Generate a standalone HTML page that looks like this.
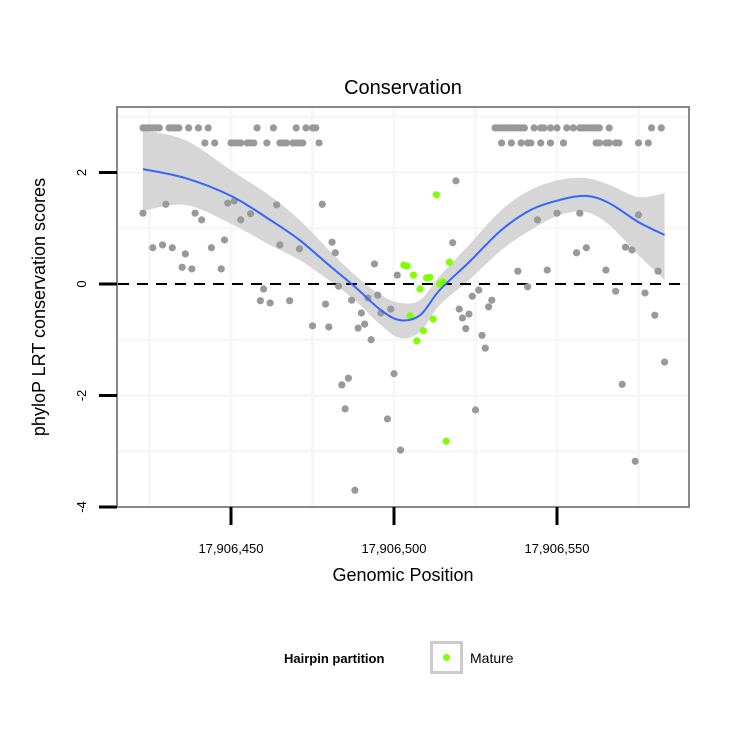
<!DOCTYPE html>
<html><head><meta charset="utf-8"><style>
body{margin:0;background:#fff;}
svg{display:block;font-family:"Liberation Sans",sans-serif;}
</style></head><body>
<svg id="chart" width="750" height="750" viewBox="0 0 750 750" xmlns="http://www.w3.org/2000/svg">
<rect width="750" height="750" fill="#fff"/>
<text x="403" y="94" font-size="20" text-anchor="middle">Conservation</text>
<g id="grid"></g>
<g id="band"></g>
<line x1="118" x2="688" y1="284" y2="284" stroke="#000" stroke-width="2" stroke-dasharray="11,8"/>
<g id="pts"></g>
<g id="fit"></g>
<rect x="117" y="107" width="572" height="400" fill="none" stroke="#888" stroke-width="2"/>
<g id="axes"></g>
<text x="403" y="581" font-size="18" text-anchor="middle">Genomic Position</text>
<text transform="translate(45,307) rotate(-90)" font-size="18" text-anchor="middle">phyloP LRT conservation scores</text>
<g>
<text x="284" y="663" font-size="13" font-weight="bold">Hairpin partition</text>
<rect x="431.5" y="642.5" width="30" height="30" fill="#fff" stroke="#ccc" stroke-width="3"/>
<circle cx="446.5" cy="657.5" r="3.5" fill="#7fff00"/>
<text x="470" y="663" font-size="14">Mature</text>
</g>
</svg>
<script>
const BASE = 17906450;
const xTicks = [17906450, 17906500, 17906550];
const xTickLabels = ["17,906,450", "17,906,500", "17,906,550"];
const yTicks = [2, 0, -2, -4];
const yTickLabels = ["2", "0", "-2", "-4"];
const xGrid = [17906425, 17906450, 17906475, 17906500, 17906525, 17906550, 17906575];
const yGrid = [3, 2, 1, 0, -1, -2, -3];
const grayTopPos = [-27,-26,-25,-24,-23,-22,-19,-18,-17,-16,-13,-10,-7,8,13,20,23,25,26,81,82,83,84,85,86,87,88,89,90,93,95,96,98,100,103,105,107,108,109,110,111,112,113,116,129,132];
const grayTopScore = 2.8;
const graySecPos = [-8,-5,0,1,2,3,5,6,7,11,15,16,17,19,20,21,22,27,83,86,89,91,92,95,98,102,112,113,115,116,118,119,125,128];
const graySecScore = 2.53;
const grayPos = [-27,-20,-24,-21,-18,-14,-15,-12,-11,-9,-6,-2,-3,-1,1,3,6,14,15,21,10,9,12,18,25,28,31,32,29,30,33,37,35,34,36,38,40,39,41,42,43,44,45,46,49,48,50,51,52,69,68,70,71,73,72,74,76,75,77,78,79,80,88,91,94,97,100,106,109,107,115,118,120,121,123,124,125,127,130,131,133];
const grayScore = [1.27,1.43,0.65,0.70,0.65,0.54,0.30,0.27,1.27,1.15,0.65,0.79,0.27,1.45,1.49,1.15,1.26,1.42,0.70,0.63,-0.09,-0.30,-0.34,-0.30,-0.75,1.43,0.75,0.56,-0.36,-0.77,-0.04,-0.29,-2.24,-1.81,-1.69,-3.70,-0.52,-0.79,-0.72,-0.25,-1.00,0.36,-0.20,-0.52,-0.45,-2.42,-1.61,0.16,-2.98,1.85,0.74,-0.45,-0.61,-0.54,-0.80,-0.22,-0.11,-2.26,-0.92,-1.15,-0.41,-0.29,0.23,-0.05,1.15,0.25,1.27,0.56,0.65,1.27,0.25,-0.13,-1.80,0.66,0.61,-3.18,1.24,-0.16,-0.56,0.23,-1.40];
const maturePos = [53,54,56,58,60,61,55,62,59,57,64,65,67,63,66];
const matureScore = [0.34,0.32,0.16,-0.09,0.11,0.12,-0.57,-0.63,-0.84,-1.02,0.00,0.04,0.39,1.60,-2.82];
const smoothPos = [-27,-14,0,12,21,30,38,46,52,58,64,73,83,92,101,109,116,125,133];
const smoothFit = [2.06,1.90,1.58,1.15,0.79,0.34,-0.05,-0.47,-0.65,-0.56,-0.11,0.39,0.97,1.33,1.51,1.58,1.45,1.11,0.88];
const smoothUpper = [2.76,2.58,2.04,1.58,1.15,0.61,0.16,-0.20,-0.34,-0.29,0.14,0.70,1.33,1.69,1.87,1.90,1.78,1.56,1.63];
const smoothLower = [1.31,1.42,1.08,0.70,0.43,0.07,-0.29,-0.74,-0.97,-0.86,-0.38,0.07,0.61,0.97,1.24,1.29,1.06,0.52,0.07];

const NS = "http://www.w3.org/2000/svg";
function xs(p){ return 231 + (p - BASE) * 3.26; }
function ys(v){ return 284 - v * 55.75; }
function mk(tag, attrs, parent){ const e = document.createElementNS(NS, tag); for (const k in attrs) e.setAttribute(k, attrs[k]); parent.appendChild(e); return e; }
function curve(P, start){
  let s = (start ? 'M' : 'L') + P[0][0] + ',' + P[0][1];
  for (let i = 0; i < P.length - 1; i++) {
    const p0 = P[Math.max(0, i - 1)], p1 = P[i], p2 = P[i + 1], p3 = P[Math.min(P.length - 1, i + 2)];
    const c1x = p1[0] + (p2[0] - p0[0]) / 6, c1y = p1[1] + (p2[1] - p0[1]) / 6;
    const c2x = p2[0] - (p3[0] - p1[0]) / 6, c2y = p2[1] - (p3[1] - p1[1]) / 6;
    s += 'C' + c1x + ',' + c1y + ' ' + c2x + ',' + c2y + ' ' + p2[0] + ',' + p2[1];
  }
  return s;
}

const grid = document.getElementById('grid');
xGrid.forEach(g => { const l = mk('line', {x1: xs(g), x2: xs(g), y1: 108, y2: 506, stroke: '#f7f7f7', 'stroke-width': 3}, grid);

 });
yGrid.forEach(g => { const l = mk('line', {x1: 118, x2: 688, y1: ys(g), y2: ys(g), stroke: '#f7f7f7', 'stroke-width': 3}, grid);

 });

const band = document.getElementById('band');
const up = smoothPos.map((p, i) => [xs(BASE + p), ys(smoothUpper[i])]);
const lo = smoothPos.map((p, i) => [xs(BASE + p), ys(smoothLower[i])]).reverse();
const bp = mk('path', {d: curve(up, true) + curve(lo, false) + 'Z', fill: '#d6d6d6'}, band);



const pts = document.getElementById('pts');
function dot(p, v, col, name){ const c = mk('circle', {cx: xs(BASE + p), cy: ys(v), r: 3.6, fill: col}, pts);

 }
grayTopPos.forEach(p => dot(p, grayTopScore, '#999', 'point-other'));
graySecPos.forEach(p => dot(p, graySecScore, '#999', 'point-other'));
grayPos.forEach((p, i) => dot(p, grayScore[i], '#999', 'point-other'));
maturePos.forEach((p, i) => dot(p, matureScore[i], '#7fff00', 'point-mature'));

const fit = document.getElementById('fit');
const fp = smoothPos.map((p, i) => [xs(BASE + p), ys(smoothFit[i])]);
const fl = mk('path', {d: curve(fp, true), fill: 'none', stroke: '#3366ff', 'stroke-width': 2}, fit);



const axes = document.getElementById('axes');
xTicks.forEach((t, i) => {
  const l = mk('line', {x1: xs(t), x2: xs(t), y1: 507, y2: 525, stroke: '#000', 'stroke-width': 3}, axes);
  
  
  const tx = mk('text', {x: xs(t), y: 553, 'font-size': 13, 'text-anchor': 'middle'}, axes);
  tx.textContent = xTickLabels[i];
  
  
});
yTicks.forEach((t, i) => {
  const l = mk('line', {x1: 99, x2: 117, y1: ys(t), y2: ys(t), stroke: '#000', 'stroke-width': 3}, axes);
  
  
  const tx = mk('text', {transform: 'translate(86,' + ys(t) + ') rotate(-90)', 'font-size': 13, 'text-anchor': 'middle'}, axes);
  tx.textContent = yTickLabels[i];
  
  
});
</script>
</body></html>
